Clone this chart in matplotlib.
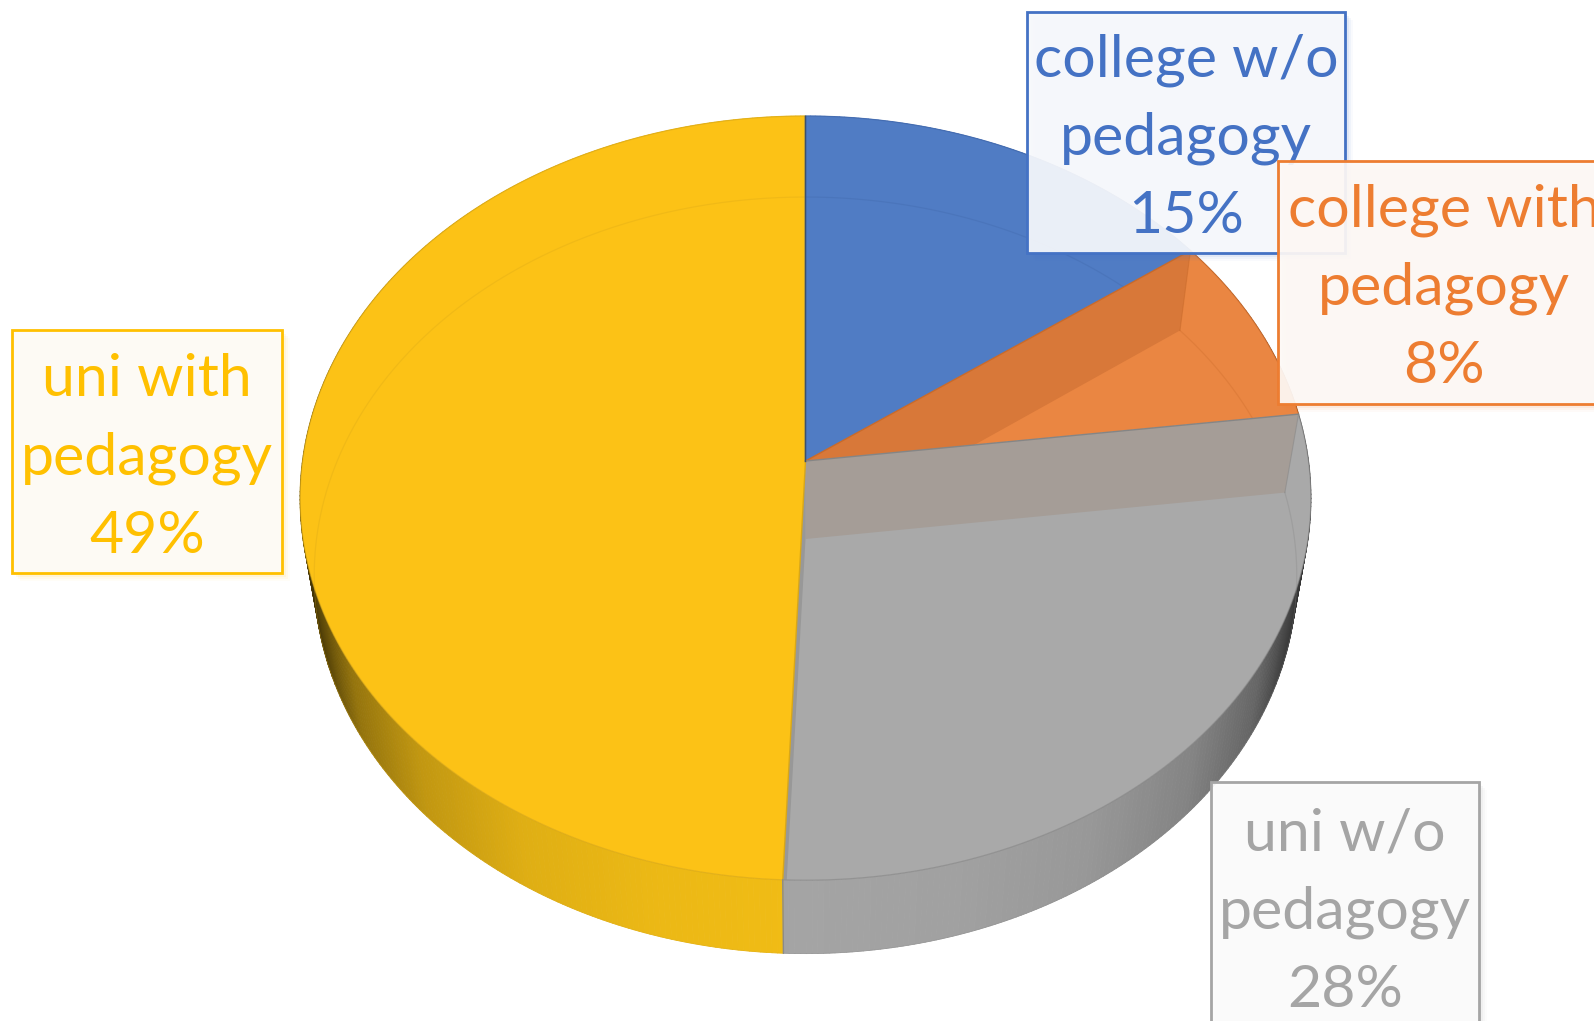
import numpy as np
import matplotlib
matplotlib.use('Agg')
import matplotlib.pyplot as plt
from matplotlib.collections import PolyCollection
from matplotlib.colors import to_rgb, to_rgba
from matplotlib.patches import Polygon, Rectangle

plt.rcParams['font.family'] = ['Lato', 'DejaVu Sans']

# data, clockwise from 12 o'clock
categories = ['college w/o\npedagogy', 'college with\npedagogy', 'uni w/o\npedagogy', 'uni with\npedagogy']
shares = [15.0, 8.0, 27.65, 49.35]

top_colors = ['#507CC4', '#EA8642', '#A9A9A9', '#FCC216']
band_colors = [None, '#D87839', '#A59D97', None]
wall_colors = ['#4472C4', '#ED7D31', '#A9A9A9', '#F8C216']
rim_colors = ['#3F66A8', '#C96A2A', '#858585', '#D8A718']
text_colors = ['#4472C4', '#ED7D31', '#A5A5A5', '#FFC000']
box_fills = ['#F9FAFC', '#FDFAF8', '#FCFCFC', '#FDFCF9']
# left, top, right, bottom in pixels
boxes = [(1027, 12, 1345, 253), (1278, 161, 1610, 404), (1211, 782, 1479, 1040), (12, 330, 282, 573)]
text_y = [138, 288, 912, 458]

# top and bottom plane of the pie: cx, cy, A, B, k
top_plane = (805.5, 461, 503, 378.5, 0.0971)
bottom_plane = (805.5, 539, 489, 374.8, 0.096)


def project(theta, plane):
    cx, cy, a, b, k = plane
    w = 1 + k * np.cos(theta)
    return cx + a * np.sin(theta) / w, cy - b * np.cos(theta) / w


def wall_shade(x):
    t = np.abs(x - top_plane[0]) / top_plane[2]
    return np.interp(t, [0, 0.3, 0.55, 0.75, 0.88, 0.96, 1.0], [0.97, 0.95, 0.9, 0.78, 0.6, 0.32, 0.2])


fig = plt.figure(figsize=(15.94, 10.21), dpi=100)
ax = fig.add_axes([0, 0, 1, 1])
ax.set_xlim(0, 1594)
ax.set_ylim(1021, 0)
ax.axis('off')

edges = 2 * np.pi * np.concatenate([[0], np.cumsum(shares)]) / sum(shares)

# side wall
for i in range(len(shares)):
    th = np.linspace(edges[i], edges[i + 1], max(int(shares[i] * 6), 8))
    xt, yt = project(th, top_plane)
    xb, yb = project(th, bottom_plane)
    quads = []
    cols = []
    for j in range(len(th) - 1):
        quads.append([(xt[j], yt[j]), (xt[j + 1], yt[j + 1]), (xb[j + 1], yb[j + 1]), (xb[j], yb[j])])
        cols.append(np.array(to_rgb(wall_colors[i])) * wall_shade((xb[j] + xb[j + 1]) / 2))
    ax.add_collection(PolyCollection(quads, facecolors=cols, edgecolors='face', linewidths=0.6, zorder=1))
    ax.plot(xb, yb, color=rim_colors[i], lw=0.5, alpha=0.4, zorder=1.5)

# top face
wedges = []
for i in range(len(shares)):
    th = np.linspace(edges[i], edges[i + 1], max(int(shares[i] * 6), 8))
    x, y = project(th, top_plane)
    pts = np.column_stack([np.r_[top_plane[0], x], np.r_[top_plane[1], y]])
    wedge = Polygon(pts, closed=True, facecolor=top_colors[i], edgecolor='none', zorder=2)
    ax.add_patch(wedge)
    wedges.append(wedge)

# inner walls seen through the top face
for i in range(len(shares)):
    if band_colors[i] is None:
        continue
    xt, yt = project(edges[i], top_plane)
    xb, yb = project(edges[i], bottom_plane)
    band = Polygon([(top_plane[0], top_plane[1]), (xt, yt), (xb, yb), (bottom_plane[0], bottom_plane[1])],
                   closed=True, facecolor=band_colors[i], edgecolor='none', zorder=2.2)
    ax.add_patch(band)
    band.set_clip_path(wedges[i])
    line, = ax.plot([xt, xb], [yt, yb], color=rim_colors[i], lw=0.8, alpha=0.5, zorder=2.3)
    line.set_clip_path(wedges[i])

# narrow strip along the gray/yellow boundary
xt, yt = project(edges[3], top_plane)
strip = Polygon([(top_plane[0], top_plane[1]), (bottom_plane[0], bottom_plane[1]), (xt + 4, yt), (xt, yt)],
                closed=True, facecolor='#989898', edgecolor='none', zorder=2.2)
ax.add_patch(strip)
strip.set_clip_path(wedges[2])

# bottom rim seen through the top face
for i in range(len(shares)):
    th = np.linspace(edges[i], edges[i + 1], max(int(shares[i] * 6), 8))
    x, y = project(th, bottom_plane)
    line, = ax.plot(x, y, color=rim_colors[i], lw=0.9, alpha=0.3, zorder=2.3)
    line.set_clip_path(wedges[i])

# rim and spokes
for i in range(len(shares)):
    th = np.linspace(edges[i], edges[i + 1], max(int(shares[i] * 6), 8))
    x, y = project(th, top_plane)
    ax.plot(x, y, color=rim_colors[i], lw=0.9, alpha=0.6, zorder=2.5)
    ax.plot([top_plane[0], x[0]], [top_plane[1], y[0]], color=rim_colors[i], lw=1.0, zorder=2.6)
    xb, yb = project(edges[i], bottom_plane)
    if y[0] > top_plane[1]:
        ax.plot([x[0], xb], [y[0], yb], color='#8A8A8A', lw=1.0, zorder=2.6)

x0, y0 = project(edges[0], top_plane)
ax.plot([top_plane[0], x0], [top_plane[1], y0], color='#3D5068', lw=1.0, zorder=2.7)

# data labels
order = [0, 1, 3, 2]
for z, i in enumerate(order):
    left, top, right, bottom = boxes[i]
    base = 5 + z
    for off, a in [(8, 0.03), (6, 0.05), (4, 0.08), (2, 0.1)]:
        ax.add_patch(Rectangle((left + off, top + off), right - left, bottom - top,
                               facecolor=text_colors[i], edgecolor='none', alpha=a, zorder=base))
    ax.add_patch(Rectangle((left, top), right - left, bottom - top,
                           facecolor=to_rgba(box_fills[i], 0.92),
                           edgecolor=text_colors[i], lw=2.0, zorder=base + 0.1))
    ax.text((left + right) / 2, text_y[i], f'{categories[i]}\n{round(shares[i])}%',
            ha='center', va='center', color=text_colors[i], fontsize=42.5, linespacing=1.58, zorder=base + 0.2)

fig.savefig('out.png', dpi=100, facecolor='white')
